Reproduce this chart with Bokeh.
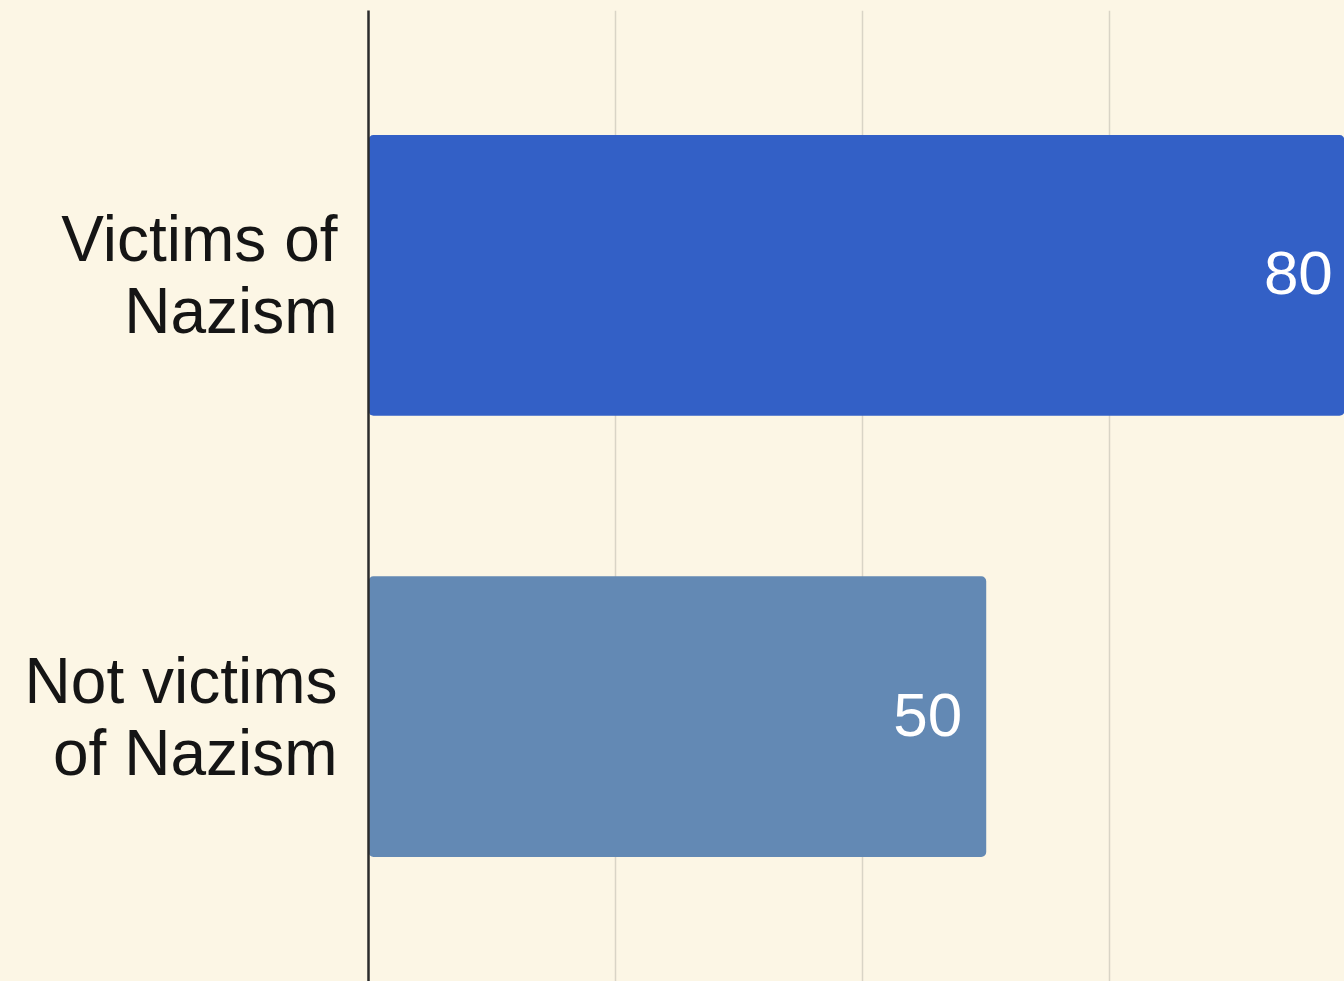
from bokeh.plotting import figure
from bokeh.models import FactorRange, Range1d, FixedTicker, ColumnDataSource
from bokeh.core.properties import value
from bokeh.embed import file_html
from bokeh.resources import INLINE

categories = ["Not victims\nof Nazism", "Victims of\nNazism"]
values = [50, 80]
colors = ["#6389B4", "#3360C6"]
labels = [str(v) for v in values]
grid_ticks = [20, 40, 60]

BG = "#FCF6E5"
FONT = "Liberation Sans"

src = ColumnDataSource(dict(cat=categories, val=values, color=colors, label=labels))

p = figure(
    width=1344, height=981,
    y_range=FactorRange(*categories, range_padding=0.1, range_padding_units="absolute"),
    x_range=Range1d(0, 79.0),
    output_backend="svg", toolbar_location=None,
    min_border_left=368, min_border_right=0, min_border_top=10, min_border_bottom=0,
)
p.background_fill_color = BG
p.border_fill_color = BG
p.outline_line_color = None

p.hbar(y="cat", right="val", left=0, height=0.636, fill_color="color",
       line_color=None, border_radius=5, source=src)

p.text(x="val", y="cat", text="label", source=src, x_offset=-24, y_offset=-2,
       text_align="right", text_baseline="middle", text_color="white",
       text_font=value(FONT), text_font_size="62px")

p.xaxis.visible = False
p.xaxis.ticker = FixedTicker(ticks=grid_ticks)
p.xgrid.ticker = FixedTicker(ticks=grid_ticks)
p.xgrid.grid_line_color = "#D9D4C6"
p.xgrid.grid_line_width = 1.5
p.ygrid.grid_line_color = None

yax = p.yaxis[0]
yax.axis_line_color = "#2B2B2B"
yax.axis_line_width = 2.5
yax.major_tick_line_color = None
yax.minor_tick_line_color = None
yax.major_tick_out = 0
yax.major_tick_in = 0
yax.major_label_standoff = 31
yax.major_label_text_font = FONT
yax.major_label_text_font_size = "64px"
yax.major_label_text_color = "#151515"
yax.major_label_text_line_height = 1.0

html = file_html(p, INLINE)
html = html.replace("</head>", "<style>html,body{background:%s;}</style></head>" % BG, 1)
open("out.html", "w").write(html)
